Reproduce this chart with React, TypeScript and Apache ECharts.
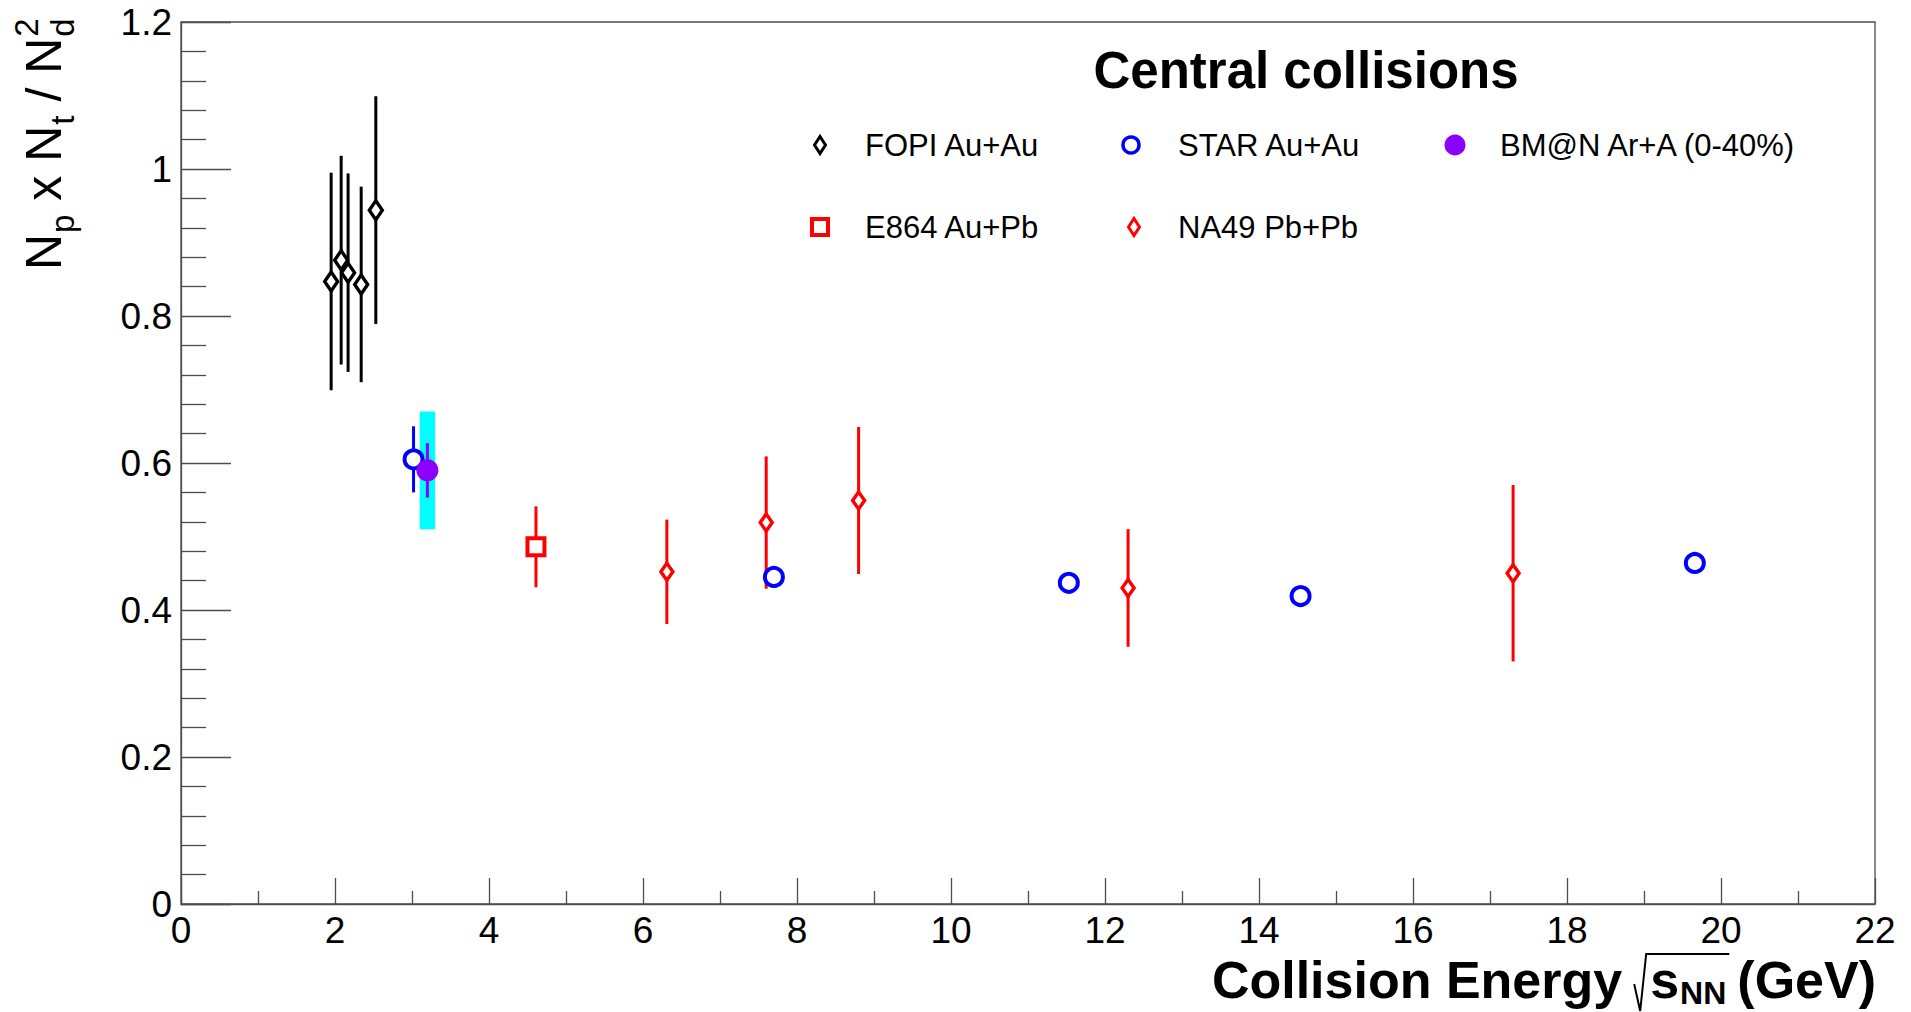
import React, { useEffect, useRef } from 'react';
import * as echarts from 'echarts';

const FONT = '"Liberation Sans", Arial, Helvetica, sans-serif';

// ---- axes ----
const xMin = 0, xMax = 22, xStep = 2;
const yMin = 0, yMax = 1.2, yStep = 0.2;

// ---- data (sqrt(sNN) in GeV, ratio Np*Nt/Nd^2) ----
const fopiEnergy = [1.95, 2.08, 2.17, 2.34, 2.53];
const fopiRatio = [0.847, 0.876, 0.859, 0.843, 0.944];
const fopiErr = [0.148, 0.142, 0.135, 0.133, 0.155];

const starEnergy = [3.02, 7.7, 11.53, 14.54, 19.66];
const starRatio = [0.605, 0.445, 0.437, 0.419, 0.464];
const starErr = [0.045, 0, 0, 0, 0];

const bmnEnergy = [3.2];
const bmnRatio = [0.59];
const bmnStatErr = [0.037];
const bmnSysErr = [0.08];
const bmnSysHalfWidth = [0.1];

const e864Energy = [4.61];
const e864Ratio = [0.486];
const e864Err = [0.055];

const na49Energy = [6.31, 7.6, 8.8, 12.3, 17.3];
const na49Ratio = [0.452, 0.519, 0.549, 0.43, 0.45];
const na49Err = [0.071, 0.09, 0.1, 0.08, 0.12];

// ---- colours ----
const C_BLACK = '#000000';
const C_BLUE = '#0000ff';
const C_RED = '#ff0000';
const C_PURPLE = '#8c00ff';
const C_CYAN = '#00ffff';
const C_AXIS = '#4d4d4d';

const pts = (xs: number[], ys: number[]) => xs.map((x, i) => [x, ys[i]]);
const bars = (xs: number[], ys: number[], es: number[]) =>
  xs.map((x, i) => [x, ys[i] - es[i], ys[i] + es[i]]);
const boxes = (xs: number[], ys: number[], hw: number[], es: number[]) =>
  xs.map((x, i) => [x - hw[i], ys[i] - es[i], x + hw[i], ys[i] + es[i]]);

function errorSeries(name: string, data: number[][], color: string) {
  return {
    type: 'custom',
    name,
    data,
    silent: true,
    encode: { x: 0, y: [1, 2] },
    renderItem: (_p: any, api: any) => {
      const lo = api.coord([api.value(0), api.value(1)]);
      const hi = api.coord([api.value(0), api.value(2)]);
      return {
        type: 'line',
        shape: { x1: lo[0], y1: lo[1], x2: hi[0], y2: hi[1] },
        style: { stroke: color, lineWidth: 3 },
      };
    },
  };
}

function boxSeries(name: string, data: number[][], color: string) {
  return {
    type: 'custom',
    name,
    data,
    silent: true,
    encode: { x: [0, 2], y: [1, 3] },
    renderItem: (_p: any, api: any) => {
      const a = api.coord([api.value(0), api.value(3)]);
      const b = api.coord([api.value(2), api.value(1)]);
      return {
        type: 'rect',
        shape: { x: a[0], y: a[1], width: b[0] - a[0], height: b[1] - a[1] },
        style: { fill: color },
      };
    },
  };
}

let _ctx: CanvasRenderingContext2D | null = null;
function measure(text: string, size: number, weight = 'normal') {
  if (!_ctx) _ctx = document.createElement('canvas').getContext('2d');
  _ctx!.font = `${weight} ${size}px "Liberation Sans"`;
  return _ctx!.measureText(text).width;
}

const CENTRAL = 0.3465; // central baseline offset (em) above alphabetic baseline

function txt(text: string, x: number, baseline: number, size: number, weight = 'normal', align = 'left', lh?: number) {
  const style: any = {
    text,
    fill: '#000',
    fontSize: size,
    fontFamily: FONT,
    fontWeight: weight,
    align,
    verticalAlign: 'middle',
  };
  if (lh) style.lineHeight = lh;
  return {
    type: 'text',
    x,
    y: baseline - CENTRAL * size,
    silent: true,
    style,
  };
}

function yTitle() {
  const m = 50, s = 33;
  const kids: any[] = [];
  let c = 0;
  kids.push(txt('N', c, 0, m)); c += measure('N', m) + 1;
  kids.push(txt('p', c, 13, s)); c += measure('p', s);
  kids.push(txt(' x ', c, 0, m)); c += measure(' x ', m);
  kids.push(txt('N', c, 0, m)); c += measure('N', m) + 1;
  kids.push(txt('t', c, 13, s)); c += measure('t', s);
  kids.push(txt(' / ', c, 0, m)); c += measure(' / ', m);
  kids.push(txt('N', c, 0, m)); c += measure('N', m) + 1;
  kids.push(txt('d', c, 13, s));
  kids.push(txt('2', c, -23, s));
  return { type: 'group', x: 61, y: 270, rotation: Math.PI / 2, children: kids };
}

function xTitle() {
  const m = 52, s = 32, B = 998, R = 1876;
  const wGeV = measure('(GeV)', m, 'bold');
  const xGeV = R - wGeV;
  const wNN = measure('NN', s, 'bold');
  const xNN = xGeV - 11 - wNN;
  const wS = measure('s', m, 'bold');
  const xS = xNN - wS - 1;
  const els: any[] = [];
  els.push(txt('(GeV)', xGeV, B, m, 'bold', 'left', 42));
  els.push(txt('NN', xNN, B + 6, s, 'bold', 'left', 30));
  els.push(txt('s', xS, B, m, 'bold', 'left', 42));
  els.push({
    type: 'polyline',
    silent: true,
    shape: {
      points: [
        [xS - 16, B - 14],
        [xS - 10, B + 13],
        [xS - 4, B - 44],
        [xNN + wNN + 3, B - 44],
      ],
    },
    style: { stroke: '#000', lineWidth: 2, fill: null },
  });
  els.push(txt('Collision Energy', xS - 28, B, m, 'bold', 'right', 42));
  return els;
}

function legendFor(name: string, cx: number, cy: number, textX: number, icon: string, w: number, h: number, style: any) {
  const lw = style.borderWidth || 0;
  const left = cx - w / 2 - lw / 2;
  const pad = textX - (cx + w / 2 + 5);
  return {
    show: true,
    data: [name],
    left,
    top: cy - 17,
    padding: 0,
    orient: 'horizontal',
    icon,
    itemWidth: w,
    itemHeight: h,
    symbolKeepAspect: false,
    selectedMode: false,
    itemStyle: style,
    textStyle: {
      fontSize: 31,
      fontFamily: FONT,
      color: '#000',
      lineHeight: 34,
      padding: [0, 0, 0, pad],
    },
  };
}

function buildOption(): any {
  return {
    animation: false,
    backgroundColor: '#ffffff',
    title: {
      text: 'Central collisions',
      left: 1306,
      top: 70,
      padding: 0,
      textAlign: 'center',
      textVerticalAlign: 'middle',
      textStyle: { fontSize: 51, fontWeight: 'bold', color: '#000', fontFamily: FONT },
    },
    grid: {
      left: 181,
      right: 36,
      top: 22,
      bottom: 108,
      show: true,
      borderColor: C_AXIS,
      borderWidth: 1.3,
      backgroundColor: 'transparent',
      outerBoundsMode: 'none',
    },
    legend: [
      legendFor('FOPI Au+Au', 820, 145, 865, 'diamond', 11, 17, { color: '#fff', borderColor: C_BLACK, borderWidth: 3 }),
      legendFor('STAR Au+Au', 1131, 145, 1178, 'circle', 16, 16, { color: '#fff', borderColor: C_BLUE, borderWidth: 3.5 }),
      legendFor('BM@N Ar+A (0-40%)', 1455, 145, 1500, 'circle', 21, 21, { color: C_PURPLE, borderColor: C_PURPLE, borderWidth: 0 }),
      legendFor('E864 Au+Pb', 820, 227, 865, 'rect', 16, 16, { color: '#fff', borderColor: C_RED, borderWidth: 4 }),
      legendFor('NA49 Pb+Pb', 1134, 227, 1178, 'diamond', 11, 17, { color: '#fff', borderColor: C_RED, borderWidth: 3 }),
    ],
    xAxis: {
      type: 'value',
      min: xMin,
      max: xMax,
      interval: xStep,
      axisLine: { show: true, onZero: false, lineStyle: { color: C_AXIS, width: 1.3 } },
      axisTick: { show: true, inside: true, length: 26, lineStyle: { color: C_AXIS, width: 1.3 } },
      minorTick: { show: true, splitNumber: 2, length: 13, lineStyle: { color: C_AXIS, width: 1.3 } },
      splitLine: { show: false },
      axisLabel: { fontSize: 37, lineHeight: 37, color: '#000', fontFamily: FONT, margin: 8 },
    },
    yAxis: {
      type: 'value',
      min: yMin,
      max: yMax,
      interval: yStep,
      axisLine: { show: true, onZero: false, lineStyle: { color: C_AXIS, width: 1.3 } },
      axisTick: { show: true, inside: true, length: 50, lineStyle: { color: C_AXIS, width: 1.3 } },
      minorTick: { show: true, splitNumber: 5, length: 25, lineStyle: { color: C_AXIS, width: 1.3 } },
      splitLine: { show: false },
      axisLabel: { fontSize: 37, color: '#000', fontFamily: FONT, margin: 9 },
    },
    graphic: [yTitle(), ...xTitle()],
    series: [
      errorSeries('STAR err', bars(starEnergy, starRatio, starErr), C_BLUE),
      {
        type: 'scatter',
        name: 'STAR Au+Au',
        data: pts(starEnergy, starRatio),
        symbol: 'circle',
        symbolSize: 18,
        itemStyle: { color: '#fff', borderColor: C_BLUE, borderWidth: 4, opacity: 1 },
      },
      boxSeries('BM@N sys', boxes(bmnEnergy, bmnRatio, bmnSysHalfWidth, bmnSysErr), C_CYAN),
      errorSeries('BM@N err', bars(bmnEnergy, bmnRatio, bmnStatErr), C_PURPLE),
      {
        type: 'scatter',
        name: 'BM@N Ar+A (0-40%)',
        data: pts(bmnEnergy, bmnRatio),
        symbol: 'circle',
        symbolSize: 22,
        itemStyle: { color: C_PURPLE, opacity: 1 },
      },
      errorSeries('FOPI err', bars(fopiEnergy, fopiRatio, fopiErr), C_BLACK),
      {
        type: 'scatter',
        name: 'FOPI Au+Au',
        data: pts(fopiEnergy, fopiRatio),
        symbol: 'diamond',
        symbolSize: [13, 19],
        itemStyle: { color: '#fff', borderColor: C_BLACK, borderWidth: 3.5, opacity: 1 },
      },
      errorSeries('E864 err', bars(e864Energy, e864Ratio, e864Err), C_RED),
      {
        type: 'scatter',
        name: 'E864 Au+Pb',
        data: pts(e864Energy, e864Ratio),
        symbol: 'rect',
        symbolSize: 17,
        itemStyle: { color: '#fff', borderColor: C_RED, borderWidth: 4, opacity: 1 },
      },
      errorSeries('NA49 err', bars(na49Energy, na49Ratio, na49Err), C_RED),
      {
        type: 'scatter',
        name: 'NA49 Pb+Pb',
        data: pts(na49Energy, na49Ratio),
        symbol: 'diamond',
        symbolSize: [12, 17],
        itemStyle: { color: '#fff', borderColor: C_RED, borderWidth: 3.5, opacity: 1 },
      },
    ],
  };
}

export default function App() {
  const ref = useRef<HTMLDivElement>(null);
  useEffect(() => {
    const chart = echarts.init(ref.current!, null, { renderer: 'svg' });
    chart.setOption(buildOption());
    return () => chart.dispose();
  }, []);
  return (
    <div
      ref={ref}
      style={{ position: 'fixed', left: 0, top: 0, width: 1911, height: 1012, background: '#fff' }}
    />
  );
}
